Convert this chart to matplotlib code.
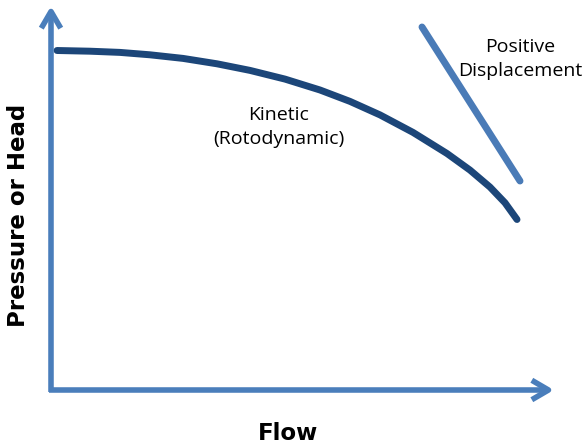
import matplotlib.pyplot as plt

# kinetic (rotodynamic) pump curve
kinetic_flow = [6, 39, 69, 99, 132, 166, 199, 234, 269, 299, 329, 362, 396,
                419, 439, 454, 466]
kinetic_head = [339.5, 338.8, 337.6, 335.2, 331.6, 326.2, 319.6, 310.9, 300,
                288.6, 275.1, 257.6, 236.5, 219.9, 202.9, 187.2, 170.5]

# positive displacement line
pd_flow = [371, 469]
pd_head = [363, 209]

axis_color = '#4a7ebb'
kin_color = '#1c4679'
pd_color = '#4a7bb7'

fig = plt.figure(figsize=(5.88, 4.48), dpi=100)
ax = fig.add_axes([0, 0, 1, 1])
ax.set_xlim(-51, 537)
ax.set_ylim(-58, 390)
ax.axis('off')

# axes drawn as arrows
arrow = dict(arrowstyle='->,head_length=1.2,head_width=0.7', lw=4,
             color=axis_color, shrinkA=0, shrinkB=0, capstyle='butt')
ax.annotate('', xy=(0, 384), xytext=(0, -2), arrowprops=arrow)
ax.annotate('', xy=(503, 0), xytext=(-2, 0), arrowprops=arrow)

ax.plot(kinetic_flow, kinetic_head, color=kin_color, lw=5,
        solid_capstyle='round', solid_joinstyle='round')
ax.plot(pd_flow, pd_head, color=pd_color, lw=5,
        solid_capstyle='round')

ax.text(228, 263, 'Kinetic\n(Rotodynamic)', ha='center', va='center',
        fontsize=14, family='Open Sans', linespacing=1.4)
ax.text(469, 331, 'Positive\nDisplacement', ha='center', va='center',
        fontsize=14, family='Open Sans', linespacing=1.45)

ax.text(-32, 175, 'Pressure or Head', rotation=90, ha='center', va='center',
        fontsize=16.5, fontweight='bold', family='DejaVu Sans')
ax.text(237, -43, 'Flow', ha='center', va='center',
        fontsize=16.5, fontweight='bold', family='DejaVu Sans')

fig.savefig('out.png', dpi=100)
